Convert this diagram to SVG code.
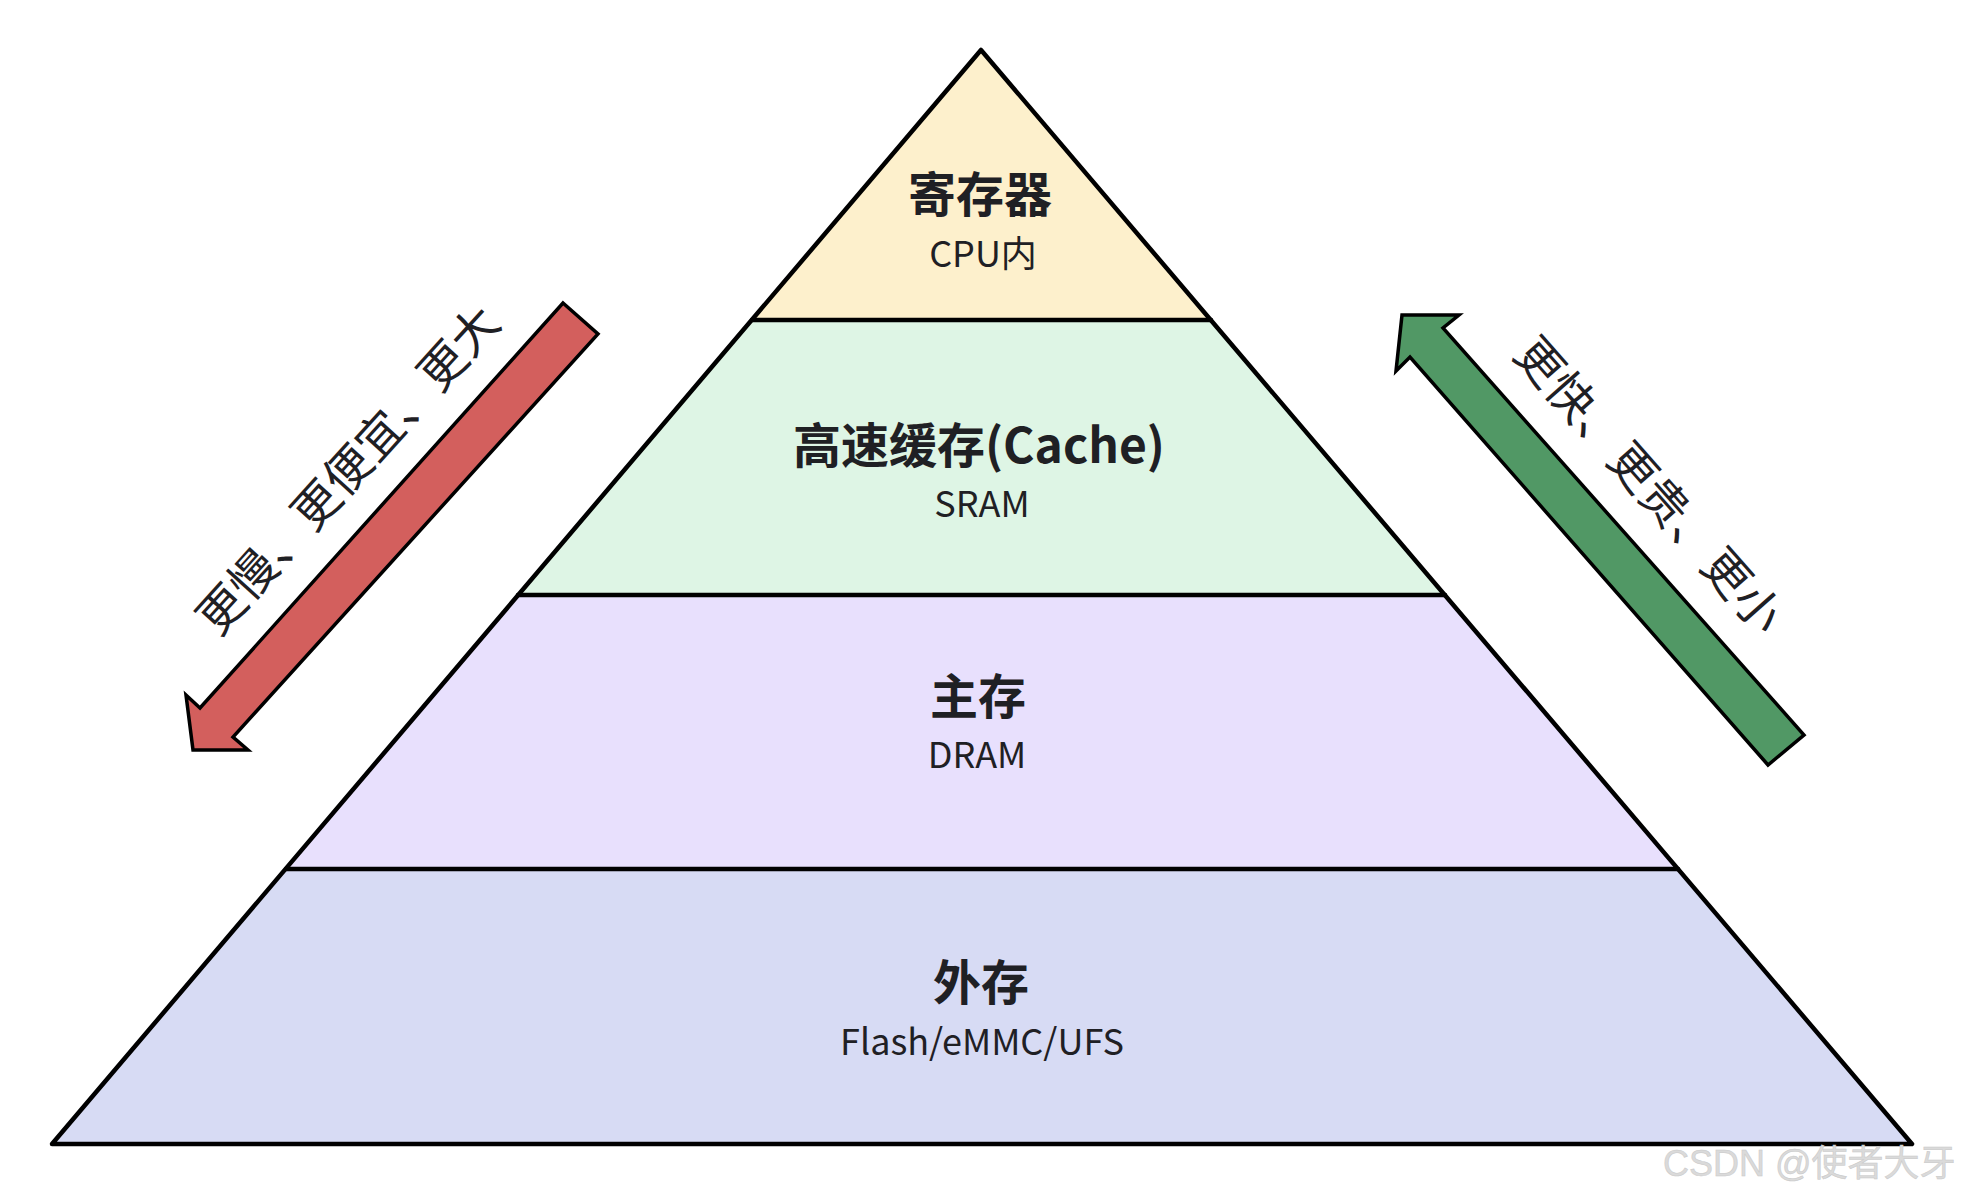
<svg xmlns="http://www.w3.org/2000/svg" width="1964" height="1198" viewBox="0 0 1964 1198">
<style>
.title{font-family:"Noto Sans CJK SC","Noto Sans",sans-serif;font-weight:700;font-size:48px;fill:#1f2024;text-anchor:middle}
.sub{font-family:"Noto Sans CJK SC","Noto Sans",sans-serif;font-weight:400;font-size:36px;fill:#1f2024;text-anchor:middle}
.side{font-family:"Noto Sans CJK SC",sans-serif;font-weight:400;font-size:47px;fill:#1f2024;text-anchor:middle}
.edge{stroke:#000;stroke-width:4.5;stroke-linecap:round;stroke-linejoin:round;fill:none}
.arrow{stroke:#000;stroke-width:3.5;stroke-linejoin:miter}
.wm{font-family:"Liberation Sans","Noto Sans CJK SC",sans-serif;font-size:36px;fill:#dadada;stroke:#c8c8c8;stroke-width:0.5}
</style>
<rect width="1964" height="1198" fill="#ffffff"/>
<g id="layer-register">
<polygon points="981,50 752,320 1211,320" fill="#fdf0cc"/>
<text class="title" x="980" y="212">寄存器</text>
<text class="sub" x="983" y="267">CPU内</text>
</g>
<g id="layer-cache">
<polygon points="752,320 1211,320 1445,595 518,595" fill="#def5e5"/>
<text class="title" x="979" y="463">高速缓存(Cache)</text>
<text class="sub" x="982" y="517">SRAM</text>
</g>
<g id="layer-main">
<polygon points="518,595 1445,595 1678,869 286,869" fill="#e8e0fd"/>
<text class="title" x="978" y="714">主存</text>
<text class="sub" x="977" y="768">DRAM</text>
</g>
<g id="layer-external">
<polygon points="286,869 1678,869 1912,1144 52,1144" fill="#d7dbf4"/>
<text class="title" x="981" y="1000">外存</text>
<text class="sub" x="982" y="1055">Flash/eMMC/UFS</text>
</g>
<g id="connectors">
<polygon class="edge" points="981,50 1912,1144 52,1144"/>
<line class="edge" x1="752" y1="320" x2="1211" y2="320"/>
<line class="edge" x1="518" y1="595" x2="1445" y2="595"/>
<line class="edge" x1="286" y1="869" x2="1678" y2="869"/>
</g>
<g id="arrow-down">
<polygon class="arrow" fill="#d35f5d" points="563,303 598,334 233,737 248,750 193,750 186,695 200,708"/>
<text class="side" transform="translate(348,470) rotate(-47.8)" y="17">更慢、更便宜、更大</text>
</g>
<g id="arrow-up">
<polygon class="arrow" fill="#519865" points="1402,315 1459,315 1443,328 1804,735 1768,765 1410,357 1396,371"/>
<text class="side" transform="translate(1649,485) rotate(48.5)" y="17">更快、更贵、更小</text>
</g>
<text class="wm" x="1663" y="1176">CSDN @使者大牙</text>
</svg>
